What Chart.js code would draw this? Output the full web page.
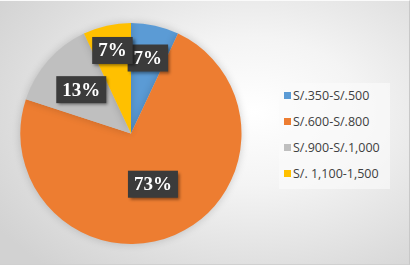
<!DOCTYPE html>
<html>
<head>
<meta charset="utf-8">
<script src="https://cdn.jsdelivr.net/npm/chart.js@4/dist/chart.umd.min.js"></script>
<style>
html,body{margin:0;padding:0;width:411px;height:265px;overflow:hidden;}
#wrap{position:absolute;left:0;top:0;width:409px;height:263px;
background:radial-gradient(ellipse 75% 80% at 62% 42%, #ffffff 0%, #f4f4f4 35%, #dcdcdc 80%, #d2d2d2 100%);
border-right:1px solid #c8c8c8;border-bottom:1px solid #d0d0d0;border-top:1px solid #fafafa;}
canvas{position:absolute;left:0;top:0;}
#legend{position:absolute;left:279px;top:82px;width:111px;height:106px;background:rgba(250,250,250,0.65);
font-family:"Open Sans","Noto Sans",sans-serif;font-size:12.5px;color:#404040;}
.item{position:absolute;left:5px;height:16px;line-height:16px;white-space:nowrap;}
.sw{display:inline-block;width:7px;height:7px;margin-right:2px;vertical-align:middle;position:relative;top:-1px;}
</style>
</head>
<body>
<div id="wrap"><canvas id="c" width="262" height="263"></canvas><div id="legend"></div></div>
<script>
const categories = ['S/.350-S/.500', 'S/.600-S/.800', 'S/.900-S/.1,000', 'S/. 1,100-1,500'];
const values = [7, 73, 13, 7];
const pctLabels = ['7%', '73%', '13%', '7%'];
const colors = ['#5b9bd5', '#ed7d31', '#bfbfbf', '#ffc000'];

const labelPlugin = {
  id: 'boxLabels',
  afterDatasetsDraw(chart, args, opts) {
    const ctx = chart.ctx;
    const meta = chart.getDatasetMeta(0);
    meta.data.forEach((arc, i) => {
      const mid = (arc.startAngle + arc.endAngle) / 2;
      const r = arc.outerRadius * opts.fractions[i];
      const x = arc.x + Math.cos(mid) * r;
      const y = arc.y + Math.sin(mid) * r;
      const text = pctLabels[i];
      ctx.save();
      ctx.font = 'bold 19px "Liberation Serif", "DejaVu Serif", serif';
      const w = ctx.measureText(text).width + 12;
      const h = 27;
      ctx.shadowColor = 'rgba(0,0,0,0.45)';
      ctx.shadowBlur = 3;
      ctx.shadowOffsetX = 2;
      ctx.shadowOffsetY = 2;
      ctx.fillStyle = '#3b3b3b';
      ctx.fillRect(x - w / 2, y - h / 2, w, h);
      ctx.shadowColor = 'transparent';
      ctx.fillStyle = '#ffffff';
      ctx.textAlign = 'center';
      ctx.textBaseline = 'middle';
      ctx.fillText(text, x, y + 1);
      ctx.restore();
    });
  }
};

const shadowPie = {
  id: 'shadowPie',
  beforeDatasetsDraw(chart) {
    const ctx = chart.ctx;
    ctx.save();
    ctx.shadowColor = 'rgba(0,0,0,0.18)';
    ctx.shadowBlur = 8;
  },
  afterDatasetsDraw(chart) {
    chart.ctx.restore();
  }
};

const chart = new Chart(document.getElementById('c'), {
  type: 'pie',
  data: {
    labels: categories,
    datasets: [{
      data: values,
      backgroundColor: colors,
      borderWidth: 0
    }]
  },
  options: {
    responsive: false,
    animation: false,
    layout: { padding: { left: 20, top: 22, bottom: 20, right: 20 } },
    plugins: {
      legend: { display: false },
      tooltip: { enabled: false },
      boxLabels: { fractions: [0.70, 0.50, 0.60, 0.77] }
    }
  },
  plugins: [shadowPie, labelPlugin]
});

// HTML legend built from the chart's data
const legend = document.getElementById('legend');
chart.data.labels.forEach((lab, i) => {
  const d = document.createElement('div');
  d.className = 'item';
  d.style.top = (5 + i * 26) + 'px';
  const sw = document.createElement('span');
  sw.className = 'sw';
  sw.style.background = chart.data.datasets[0].backgroundColor[i];
  d.appendChild(sw);
  d.appendChild(document.createTextNode(lab));
  legend.appendChild(d);
});
</script>
</body>
</html>
